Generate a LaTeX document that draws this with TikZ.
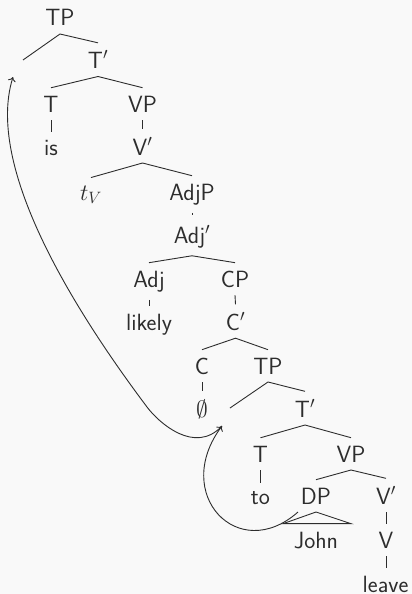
\RequirePackage{fix-cm}
\documentclass[tikz,border=0pt]{standalone}
\usetikzlibrary{arrows.meta}
\definecolor{bg}{RGB}{249,249,249}
\definecolor{ink}{RGB}{45,45,45}
\tikzset{
  lbl/.style={anchor=base, inner xsep=4pt, inner ysep=7.8pt, text=ink,
    font=\sffamily\fontsize{23.5}{28}\selectfont},
  branch/.style={draw=ink, line width=0.9pt},
  mover/.style={draw=ink, line width=0.9pt, -{To[length=4.5pt,width=8pt]}},
}
\begin{document}
\begin{tikzpicture}[x=1pt,y=-1pt]
\useasboundingbox (0,0) rectangle (412,594);
\fill[bg] (0,0) rectangle (412,594);
% nodes
\node[lbl] (tp1)    at (60,26)    {TP};
\node[lbl] (t1bar)  at (98,68.5)  {T$'$};
\node[lbl] (t1)     at (51,112)   {T};
\node[lbl] (vp1)    at (142.5,112){VP};
\node[lbl] (is)     at (51,155)   {is};
\node[lbl] (v1bar)  at (142.5,155){V$'$};
\node[lbl] (tv)     at (91,200)   {$t_V$};
\node[lbl] (adjp)   at (192,200)  {AdjP};
\node[lbl] (adjbar) at (192,243)  {Adj$'$};
\node[lbl] (adj)    at (149,287)  {Adj};
\node[lbl] (cp)     at (235,287)  {CP};
\node[lbl] (likely) at (149,330)  {likely};
\node[lbl] (cbar)   at (235.5,330){C$'$};
\node[lbl] (c)      at (202,374)  {C};
\node[lbl] (tp2)    at (268,374)  {TP};
\node[lbl] (empty)  at (202,417)  {$\emptyset$};
\node[lbl] (t2bar)  at (305,417)  {T$'$};
\node[lbl] (t2)     at (260.5,462){T};
\node[lbl] (vp2)    at (351,462)  {VP};
\node[lbl] (to)     at (260.5,504){to};
\node[lbl] (dp)     at (316,504)  {DP};
\node[lbl] (v2bar)  at (386,504)  {V$'$};
\node[lbl] (john)   at (316,548)  {John};
\node[lbl] (v)      at (386,548)  {V};
\node[lbl, inner ysep=0.5pt, inner xsep=0.5pt] (leave) at (385.5,592) {leave};
% empty specifier positions and arrow ends
\coordinate (specA) at (23,60);
\coordinate (specB) at (230,408);
\coordinate (tipA) at (13,77);
\coordinate (tipB) at (222,426);
\coordinate (jstart) at (298,512);
% branches
\draw[branch] (specA) -- (tp1.south) -- (t1bar.north);
\draw[branch] (t1.north) -- (t1bar.south) -- (vp1.north);
\draw[branch] (t1.south) -- (is.north);
\draw[branch] (vp1.south) -- (v1bar.north);
\draw[branch] (tv.north) -- (v1bar.south) -- (adjp.north);
\draw[branch, shorten >=2.5pt] (adjp.south) -- (adjbar.north);
\draw[branch] (adj.north) -- (adjbar.south) -- (cp.north);
\draw[branch] (adj.south) -- (likely.north);
\draw[branch] (cp.south) -- (cbar.north);
\draw[branch] (c.north) -- (cbar.south) -- (tp2.north);
\draw[branch] (c.south) -- (empty.north);
\draw[branch] (specB) -- (tp2.south) -- (t2bar.north);
\draw[branch] (t2.north) -- (t2bar.south) -- (vp2.north);
\draw[branch] (t2.south) -- (to.north);
\draw[branch] (dp.north) -- (vp2.south) -- (v2bar.north);
\draw[branch] (v2bar.south) -- (v.north);
\draw[branch, shorten >=7.3pt] (v.south) -- (v.south |- leave.north);
% roof
\draw[branch] (dp.south) -- ([xshift=-33pt]john.north) -- ([xshift=35pt]john.north) -- cycle;
% movement arrows
\draw[mover] (jstart) .. controls (238,565) and (171,494) .. (tipB);
\draw[mover] (tipB) .. controls (195,455) and (159,423) .. (147,407)
  .. controls (87,327) and (-17,173) .. (tipA);
\end{tikzpicture}
\end{document}
